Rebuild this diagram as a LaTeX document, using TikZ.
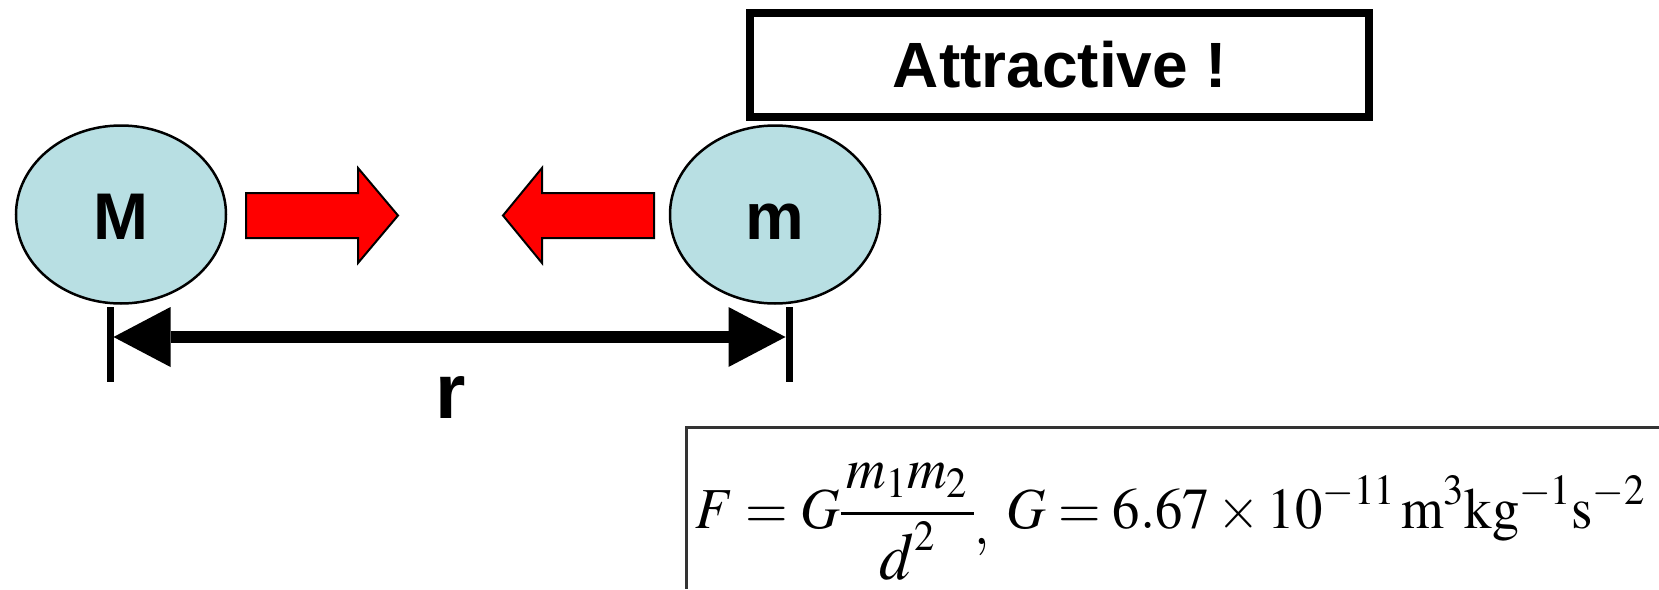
\documentclass[tikz,border=0pt]{standalone}
\usepackage{mathptmx}
\usepackage{graphicx}
\usepackage[no-math]{fontspec}
\newfontfamily\arial{Liberation Sans}
\usetikzlibrary{arrows.meta,shapes.geometric}
\definecolor{ballblue}{HTML}{B8DFE3}
\definecolor{framegray}{HTML}{333333}
\tikzset{
  ball/.style={ellipse, draw=black, line width=2.5pt, fill=ballblue,
    minimum width=210pt, minimum height=178pt, inner sep=0pt},
  label/.style={font=\arial\bfseries\fontsize{66}{70}\selectfont, inner sep=0pt, anchor=base},
  force/.style={fill=red, draw=black, line width=2pt, line join=miter},
  tick/.style={line width=7pt},
  dim/.style={line width=12pt, {Triangle[length=57pt,width=60pt,line width=0pt]}-{Triangle[length=57pt,width=60pt,line width=0pt]}},
  titlebox/.style={draw=black, line width=8pt, minimum width=619pt, minimum height=104pt, inner sep=0pt},
}
\begin{document}
\begin{tikzpicture}[x=1pt,y=-1pt]
\useasboundingbox (0,0) rectangle (1659,589);
% masses
\node[ball] (M) at (121,214.5) {};
\node[ball] (m) at (775,214.5) {};
\node[label] (Mlab) at (120.5,239) {M};
\node[label] (mlab) at (775,239) {m};
% attraction arrows
\draw[force] (246,193) -- (358,193) -- (358,168) -- (398,215.5) -- (358,263) -- (358,238) -- (246,238) -- cycle;
\draw[force] (654,193) -- (542,193) -- (542,168) -- (503,215.5) -- (542,263) -- (542,238) -- (654,238) -- cycle;
% distance
\coordinate (tl1) at (110,307);
\coordinate (tl2) at (110,382);
\coordinate (tr1) at (789,307);
\coordinate (tr2) at (789,382);
\coordinate (dl) at (113.5,337);
\coordinate (dr) at (785.5,337);
\draw[tick] (tl1) -- (tl2);
\draw[tick] (tr1) -- (tr2);
\draw[dim] (dl) -- (dr);
\node[label, font=\arial\bfseries\fontsize{78}{80}\selectfont] (r) at (451,418) {r};
% title
\node[titlebox] (attr) at (1059.5,65) {};
\node[label, font=\arial\bfseries\fontsize{64}{68}\selectfont] (attrtxt) at (1060,87) {Attractive !};
% formula
\coordinate (fa) at (1659,427.5);
\coordinate (fb) at (686.5,589);
\draw[framegray, line width=3pt] (fa) -| (fb);
\node[inner sep=0pt, anchor=base west, font=\fontsize{58}{60}\selectfont] (formula) at (695,528)
  {\resizebox{950pt}{\height}{$\displaystyle F = G\frac{\,m_1m_2\,}{\scalebox{1.15}{$d$}^{2}}\raisebox{-16pt}{$,$}\ G = 6.67\times10^{-11}\,\mathrm{m}^3\mathrm{kg}^{-1}\mathrm{s}^{-2}$}};
\end{tikzpicture}
\end{document}
